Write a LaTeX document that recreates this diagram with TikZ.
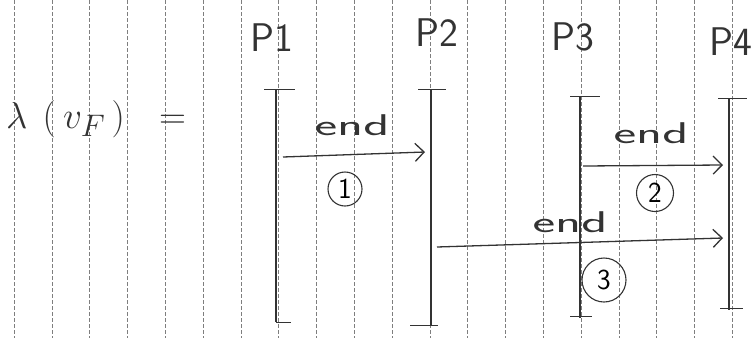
\documentclass[tikz,border=0pt]{standalone}
\usepackage{graphicx}
\usetikzlibrary{arrows.meta}
\definecolor{pencil}{HTML}{333333}
\definecolor{ruleline}{HTML}{7E7E7E}
\begin{document}
\begin{tikzpicture}[x=1pt,y=-1pt,
  ruling/.style={ruleline, line width=0.6pt, dash pattern=on 4pt off 2pt},
  lifeline/.style={pencil, line width=1.7pt},
  tickmark/.style={pencil, line width=1pt},
  msg/.style={pencil, line width=1.3pt,
    -{Straight Barb[length=9pt,width=18pt,line width=1.3pt]}},
  plabel/.style={pencil, inner sep=0pt, font=\sffamily\fontsize{40}{42}\selectfont},
  handtext/.style={pencil, inner sep=0pt, font=\sffamily\fontsize{30}{32}\selectfont},
  num/.style={draw=pencil, circle, line width=1.1pt, inner sep=0pt,
    font=\sffamily\fontsize{29}{30}\selectfont}]
\useasboundingbox (0,0) rectangle (755,338);
\fill[white] (0,0) rectangle (755,338);
% ruled paper
\foreach \i in {0,...,19}
  \draw[ruling] ({14+37.8*\i},0) -- ({14+37.8*\i},338);

% formula on the left
\node[pencil, anchor=base west, inner sep=0pt, font=\Huge]
  (lam) at (6,128) {\scalebox{1.5}{$\lambda\hspace{10pt}(\hspace{5pt}v_{F}\hspace{4pt})\hspace{16pt}=$}};

% process labels
\node[plabel] (P1) at (272,38) {P1};
\node[plabel] (P2) at (437,33) {P2};
\node[plabel] (P3) at (573,37) {P3};
\node[plabel] (P4) at (731,42) {P4};

% lifelines
\coordinate (p1t) at (276,89);  \coordinate (p1b) at (276,322);
\coordinate (p2t) at (431,89);  \coordinate (p2b) at (431,325);
\coordinate (p3t) at (580,96);  \coordinate (p3b) at (580,318);
\coordinate (p4t) at (729,98);  \coordinate (p4b) at (729,310);
\draw[lifeline] (p1t) -- (p1b);
\draw[lifeline] (p2t) -- (p2b);
\draw[lifeline] (p3t) -- (p3b);
\draw[lifeline] (p4t) -- (p4b);
\draw[tickmark] ([xshift=-12pt]p1t) -- ([xshift=19pt]p1t);
\draw[tickmark] (p1b) -- ([xshift=15pt]p1b);
\draw[tickmark] ([xshift=-13pt]p2t) -- ([xshift=15pt]p2t);
\draw[tickmark] ([xshift=-21pt]p2b) -- ([xshift=7pt]p2b);
\draw[tickmark] ([xshift=-10pt]p3t) -- ([xshift=20pt]p3t);
\draw[tickmark] ([xshift=-10pt,yshift=2pt]p3b) -- ([xshift=12pt,yshift=2pt]p3b);
\draw[tickmark] ([xshift=-11pt]p4t) -- ([xshift=18pt]p4t);
\draw[tickmark] ([xshift=-9pt,yshift=2pt]p4b) -- ([xshift=14pt,yshift=2pt]p4b);

% messages
\coordinate (m1s) at (283,157); \coordinate (m1e) at (425,152);
\coordinate (m2s) at (583,166); \coordinate (m2e) at (723,165);
\coordinate (m3s) at (437,247); \coordinate (m3e) at (723,238);
\draw[msg] (m1s) -- (m1e);
\draw[msg] (m2s) -- (m2e);
\draw[msg] (m3s) -- (m3e);

% message labels
\node[handtext] (e1) at (352,125) {\scalebox{1.8}[1]{end}};
\node[handtext] (e2) at (651,133) {\scalebox{1.8}[1]{end}};
\node[handtext] (e3) at (570,222) {\scalebox{1.8}[1]{end}};
\node[num, minimum size=34pt] (c1) at (345,189) {1};
\node[num, minimum size=37pt] (c2) at (655,193) {2};
\node[num, minimum size=44pt] (c3) at (604,280) {3};
\end{tikzpicture}
\end{document}
